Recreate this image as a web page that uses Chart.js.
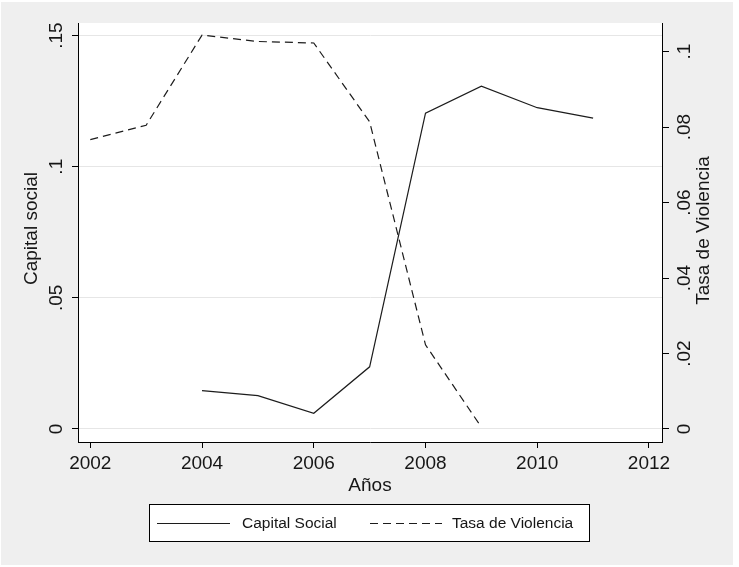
<!DOCTYPE html>
<html>
<head>
<meta charset="utf-8">
<script src="https://cdn.jsdelivr.net/npm/chart.js@4/dist/chart.umd.min.js"></script>
<style>
  html, body { margin: 0; padding: 0; background: #ffffff; }
  canvas { display: block; }
</style>
</head>
<body>
<canvas id="chart" width="739" height="567"></canvas>
<script>
// Years and series
const capitalYears = [2004, 2005, 2006, 2007, 2008, 2009, 2010, 2011];
const capitalSocial = [0.0146, 0.0127, 0.0060, 0.0237, 0.1204, 0.1307, 0.1225, 0.1185];
const violenciaYears = [2002, 2003, 2004, 2005, 2006, 2007, 2008, 2009];
const tasaViolencia = [0.0767, 0.0805, 0.1044, 0.1027, 0.1023, 0.0814, 0.0223, 0.0005];

// Tick values and their labels
const xTicks = [2002, 2004, 2006, 2008, 2010, 2012];
const leftTicks = [0, 0.05, 0.1, 0.15];
const leftTickLabels = ['0', '.05', '.1', '.15'];
const rightTicks = [0, 0.02, 0.04, 0.06, 0.08, 0.1];
const rightTickLabels = ['0', '.02', '.04', '.06', '.08', '.1'];

const FONT = "'Liberation Sans', Arial, sans-serif";
const INK = '#161616';

const toPoints = (xs, ys) => xs.map((x, i) => ({ x: x, y: ys[i] }));

const frame = {
  id: 'frame',
  beforeDraw(chart) {
    const ctx = chart.ctx;
    const a = chart.chartArea;
    ctx.save();
    ctx.fillStyle = '#ffffff';
    ctx.fillRect(0, 0, chart.width, chart.height);
    ctx.fillStyle = '#efefef';
    ctx.fillRect(1, 2, 732, 563);
    ctx.fillStyle = '#ffffff';
    ctx.fillRect(a.left, a.top, a.right - a.left, a.bottom - a.top);
    ctx.restore();
  },
  afterDraw(chart) {
    const ctx = chart.ctx;
    const a = chart.chartArea;
    const yL = chart.scales.yL;
    const yR = chart.scales.yR;
    ctx.save();
    ctx.fillStyle = INK;

    // rotated tick labels on both vertical axes
    const rotText = (txt, x, y) => {
      ctx.save();
      ctx.translate(x, y);
      ctx.rotate(-Math.PI / 2);
      ctx.textAlign = 'center';
      ctx.textBaseline = 'middle';
      ctx.fillText(txt, 0, 0);
      ctx.restore();
    };
    ctx.font = '19px ' + FONT;
    leftTicks.forEach((v, i) => rotText(leftTickLabels[i], 57, yL.getPixelForValue(v)));
    rightTicks.forEach((v, i) => rotText(rightTickLabels[i], 685, yR.getPixelForValue(v)));

    // axis titles
    const midY = (a.top + a.bottom) / 2;
    rotText('Capital social', 32, midY - 4);
    rotText('Tasa de Violencia', 704, midY - 2);
    ctx.textAlign = 'center';
    ctx.textBaseline = 'middle';
    ctx.fillText('Años', (a.left + a.right) / 2, 486);

    // legend
    const lx = 149.5, ly = 504.5, lw = 440, lh = 37;
    ctx.fillStyle = '#ffffff';
    ctx.fillRect(lx, ly, lw, lh);
    ctx.strokeStyle = '#000000';
    ctx.lineWidth = 1;
    ctx.strokeRect(lx, ly, lw, lh);
    const cy = 523.5;
    const items = [
      { ds: chart.data.datasets[0], x0: 157, x1: 230, tx: 242 },
      { ds: chart.data.datasets[1], x0: 370, x1: 442, tx: 452 }
    ];
    ctx.font = '15.5px ' + FONT;
    items.forEach(it => {
      ctx.beginPath();
      ctx.setLineDash(it.ds.borderDash || []);
      ctx.strokeStyle = it.ds.borderColor;
      ctx.lineWidth = it.ds.borderWidth;
      ctx.moveTo(it.x0, cy);
      ctx.lineTo(it.x1, cy);
      ctx.stroke();
      ctx.setLineDash([]);
      ctx.fillStyle = INK;
      ctx.textAlign = 'left';
      ctx.textBaseline = 'middle';
      ctx.fillText(it.ds.label, it.tx, cy);
    });
    ctx.restore();
  }
};

new Chart(document.getElementById('chart'), {
  type: 'line',
  data: {
    datasets: [
      {
        label: 'Capital Social',
        data: toPoints(capitalYears, capitalSocial),
        yAxisID: 'yL',
        borderColor: '#1c1c1c',
        borderWidth: 1.2,
        borderDash: [],
        pointRadius: 0,
        fill: false,
        tension: 0
      },
      {
        label: 'Tasa de Violencia',
        data: toPoints(violenciaYears, tasaViolencia),
        yAxisID: 'yR',
        borderColor: '#1c1c1c',
        borderWidth: 1.2,
        borderDash: [8, 5],
        pointRadius: 0,
        fill: false,
        tension: 0
      }
    ]
  },
  options: {
    responsive: false,
    animation: false,
    devicePixelRatio: 1,
    layout: { padding: { top: 23, bottom: 0, left: 0, right: 0 } },
    plugins: {
      legend: { display: false },
      tooltip: { enabled: false },
      title: { display: false }
    },
    scales: {
      x: {
        type: 'linear',
        position: 'bottom',
        min: 2001.78,
        max: 2012.233,
        afterBuildTicks: s => { s.ticks = xTicks.map(v => ({ value: v })); },
        afterFit: s => { s.height = 125; },
        grid: { display: true, drawOnChartArea: false, drawTicks: true, tickLength: 6, tickColor: '#000000', lineWidth: 1 },
        border: { display: true, color: '#000000', width: 1 },
        ticks: {
          display: true,
          autoSkip: false,
          maxRotation: 0,
          minRotation: 0,
          padding: 4,
          color: INK,
          font: { family: FONT, size: 19 },
          callback: v => String(v)
        }
      },
      yL: {
        type: 'linear',
        position: 'left',
        min: -0.00496,
        max: 0.1548,
        afterBuildTicks: s => { s.ticks = leftTicks.map(v => ({ value: v })); },
        afterFit: s => { s.width = 78; },
        grid: { display: true, drawOnChartArea: true, drawTicks: true, tickLength: 6, color: '#e6e6e6', tickColor: '#000000', lineWidth: 1 },
        border: { display: true, color: '#000000', width: 1 },
        ticks: { display: false }
      },
      yR: {
        type: 'linear',
        position: 'right',
        min: -0.00345,
        max: 0.1076,
        afterBuildTicks: s => { s.ticks = rightTicks.map(v => ({ value: v })); },
        afterFit: s => { s.width = 77; },
        grid: { display: true, drawOnChartArea: false, drawTicks: true, tickLength: 7, tickColor: '#000000', lineWidth: 1 },
        border: { display: true, color: '#000000', width: 1 },
        ticks: { display: false }
      }
    }
  },
  plugins: [frame]
});
</script>
</body>
</html>
